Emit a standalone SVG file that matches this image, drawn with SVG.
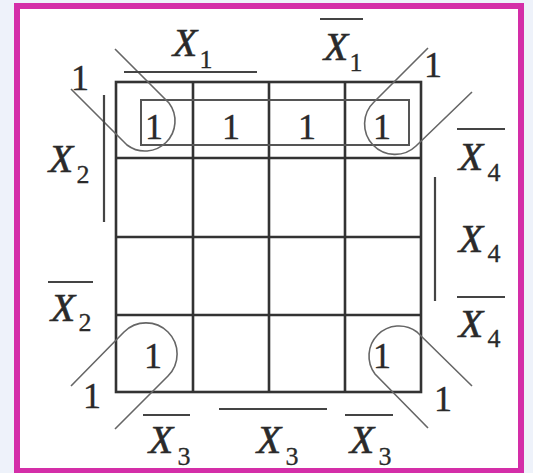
<svg xmlns="http://www.w3.org/2000/svg" width="533" height="473" viewBox="0 0 533 473">
<style>
.grid{stroke:#333;stroke-width:2.6;fill:none}
.inner{stroke:#555;stroke-width:2;fill:none}
.loop{stroke:#666;stroke-width:1.6;fill:none}
.bar{stroke:#444;stroke-width:2.2}
.x{font-family:'Liberation Serif','DejaVu Serif',serif;font-style:italic;font-size:40px;fill:#2a2a2a;stroke:#2a2a2a;stroke-width:0.6;text-anchor:middle}
.sub{font-family:'Liberation Serif','DejaVu Serif',serif;font-size:26px;fill:#2a2a2a;stroke:#2a2a2a;stroke-width:0.3;text-anchor:middle}
.one{font-family:'Liberation Serif','DejaVu Serif',serif;font-size:36px;fill:#2a2a2a;stroke:#2a2a2a;stroke-width:0.4;text-anchor:middle}
</style>
<rect x="0" y="0" width="533" height="473" fill="#eef2fa"/>
<rect x="17" y="6" width="504" height="465" fill="#ffffff" stroke="#d42ea8" stroke-width="6"/>
<g id="grid">
<rect class="grid" x="116" y="82" width="305" height="310"/>
<line class="grid" x1="193" y1="82" x2="193" y2="392"/>
<line class="grid" x1="269" y1="82" x2="269" y2="392"/>
<line class="grid" x1="345" y1="82" x2="345" y2="392"/>
<line class="grid" x1="116" y1="158" x2="421" y2="158"/>
<line class="grid" x1="116" y1="237" x2="421" y2="237"/>
<line class="grid" x1="116" y1="315" x2="421" y2="315"/>
</g>
<g id="cells">
<text class="one" x="154" y="139">1</text>
<text class="one" x="231" y="139">1</text>
<text class="one" x="307" y="139">1</text>
<text class="one" x="382" y="139">1</text>
<text class="one" x="153" y="368">1</text>
<text class="one" x="382" y="368">1</text>
</g>
<g id="connectors">
<rect class="inner" x="141" y="100" width="268" height="45"/>
<path class="loop" d="M115,49 L169,103 A30,30 0 0 1 127,145 L71,89"/>
<path class="loop" d="M428,48 L374,102 A30,30 0 0 0 416,146 L472,92"/>
<path class="loop" d="M71,386 L124,332 A31,31 0 0 1 168,376 L115,429"/>
<path class="loop" d="M472,386 L417,332 A30,30 0 0 0 375,374 L428,428"/>
</g>
<g id="loop-labels">
<text class="one" x="80" y="90">1</text>
<text class="one" x="433" y="77">1</text>
<text class="one" x="92" y="408">1</text>
<text class="one" x="443" y="411">1</text>
</g>
<g id="label-x1">
<line class="bar" x1="124" y1="72" x2="257" y2="72"/>
<text class="x" x="185" y="56">X</text><text class="sub" x="206" y="68">1</text>
</g>
<g id="label-nx1">
<line class="bar" x1="320" y1="19" x2="363" y2="19"/>
<text class="x" x="336" y="60">X</text><text class="sub" x="356" y="71">1</text>
</g>
<g id="label-x2">
<line class="bar" x1="104" y1="95" x2="104" y2="222"/>
<text class="x" x="61" y="172">X</text><text class="sub" x="83" y="183">2</text>
</g>
<g id="label-nx2">
<line class="bar" x1="48" y1="282" x2="93" y2="282"/>
<text class="x" x="63" y="321">X</text><text class="sub" x="85" y="331">2</text>
</g>
<g id="label-nx4-top">
<line class="bar" x1="457" y1="129" x2="505" y2="129"/>
<text class="x" x="471" y="170">X</text><text class="sub" x="494" y="181">4</text>
</g>
<g id="label-x4">
<line class="bar" x1="435" y1="177" x2="435" y2="301"/>
<text class="x" x="471" y="252">X</text><text class="sub" x="494" y="262">4</text>
</g>
<g id="label-nx4-bottom">
<line class="bar" x1="457" y1="297" x2="505" y2="297"/>
<text class="x" x="471" y="337">X</text><text class="sub" x="494" y="347">4</text>
</g>
<g id="label-nx3-left">
<line class="bar" x1="143" y1="415" x2="190" y2="415"/>
<text class="x" x="161" y="453">X</text><text class="sub" x="184" y="465">3</text>
</g>
<g id="label-x3">
<line class="bar" x1="219" y1="409" x2="327" y2="409"/>
<text class="x" x="269" y="453">X</text><text class="sub" x="292" y="465">3</text>
</g>
<g id="label-nx3-right">
<line class="bar" x1="345" y1="415" x2="393" y2="415"/>
<text class="x" x="362" y="453">X</text><text class="sub" x="385" y="465">3</text>
</g>
</svg>
